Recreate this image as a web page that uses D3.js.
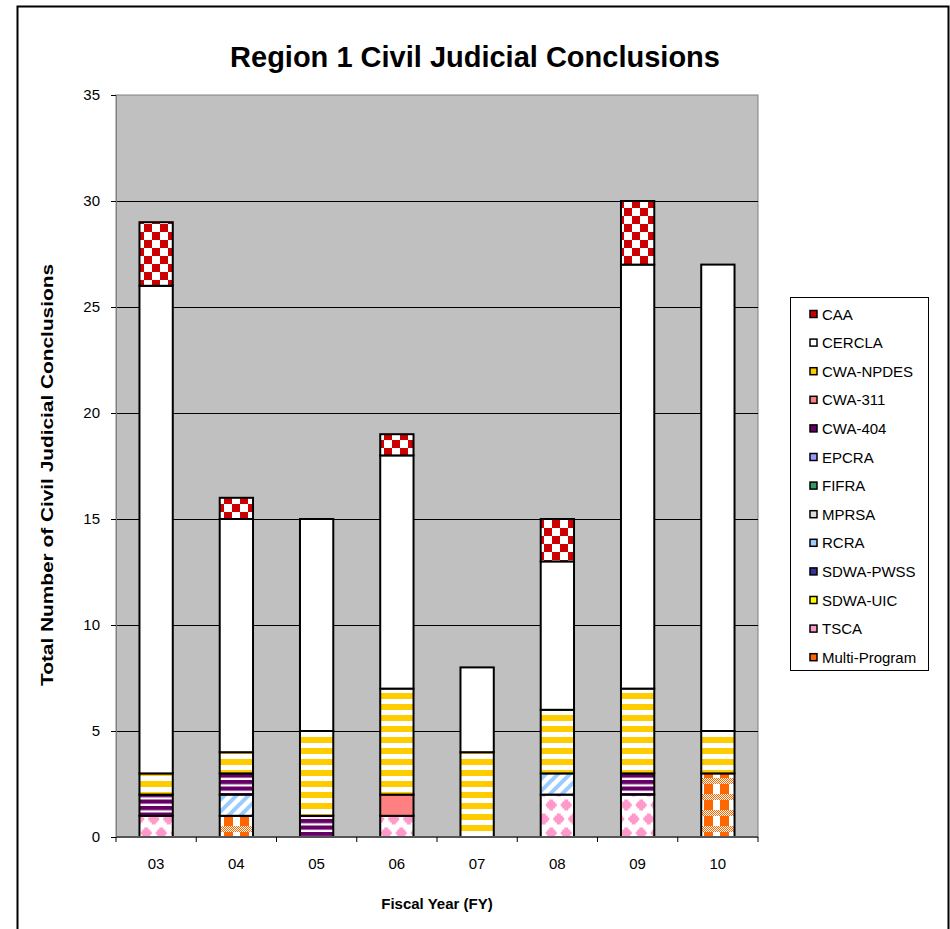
<!DOCTYPE html>
<html><head><meta charset="utf-8">
<script src="https://cdn.jsdelivr.net/npm/d3@7"></script>
<style>body{margin:0;background:#fff;font-family:"Liberation Sans",Arial,sans-serif}</style>
</head><body>
<svg id="c" width="950" height="929"></svg>
<script>
const years = ["03","04","05","06","07","08","09","10"];
// stacking order bottom -> top
const seriesKeys = ["Multi-Program","TSCA","SDWA-UIC","SDWA-PWSS","RCRA","MPRSA","FIFRA","EPCRA","CWA-404","CWA-311","CWA-NPDES","CERCLA","CAA"];
const multiProgram = [0,1,0,0,0,0,0,3];
const tsca         = [1,0,0,1,0,2,2,0];
const sdwaUic      = [0,0,0,0,0,0,0,0];
const sdwaPwss     = [0,0,0,0,0,0,0,0];
const rcra         = [0,1,0,0,0,1,0,0];
const mprsa        = [0,0,0,0,0,0,0,0];
const fifra        = [0,0,0,0,0,0,0,0];
const epcra        = [0,0,0,0,0,0,0,0];
const cwa404       = [1,1,1,0,0,0,1,0];
const cwa311       = [0,0,0,1,0,0,0,0];
const cwaNpdes     = [1,1,4,5,4,3,4,2];
const cercla       = [23,11,10,11,4,7,20,22];
const caa          = [3,1,0,1,0,2,3,0];
const yTicks = [0,5,10,15,20,25,30,35];
const legendOrder = ["CAA","CERCLA","CWA-NPDES","CWA-311","CWA-404","EPCRA","FIFRA","MPRSA","RCRA","SDWA-PWSS","SDWA-UIC","TSCA","Multi-Program"];

const valuesByKey = {"Multi-Program":multiProgram,"TSCA":tsca,"SDWA-UIC":sdwaUic,"SDWA-PWSS":sdwaPwss,"RCRA":rcra,"MPRSA":mprsa,"FIFRA":fifra,"EPCRA":epcra,"CWA-404":cwa404,"CWA-311":cwa311,"CWA-NPDES":cwaNpdes,"CERCLA":cercla,"CAA":caa};
const table = years.map((y,i)=>{const o={year:y};seriesKeys.forEach(k=>o[k]=valuesByKey[k][i]);return o;});

const FONT = "'Liberation Sans', Arial, sans-serif";
const svg = d3.select("#c");
const defs = svg.append("defs");
function pat(id,w,h,draw){const p=defs.append("pattern").attr("id",id).attr("patternUnits","userSpaceOnUse").attr("width",w).attr("height",h);draw(p);return "url(#"+id+")";}

const fills = {
  "CAA": pat("pCAA",16,16,p=>{p.append("rect").attr("width",16).attr("height",16).attr("fill","#fff");
    p.append("rect").attr("width",8).attr("height",8).attr("fill","#CC0000");
    p.append("rect").attr("x",8).attr("y",8).attr("width",8).attr("height",8).attr("fill","#CC0000");}),
  "CERCLA": "#ffffff",
  "CWA-NPDES": pat("pNP",8,11,p=>{p.append("rect").attr("width",8).attr("height",11).attr("fill","#fff");
    p.append("rect").attr("y",0).attr("width",8).attr("height",6).attr("fill","#FFCC00");}),
  "CWA-311": "#FF8080",
  "CWA-404": pat("p404",8,6.5,p=>{p.append("rect").attr("width",8).attr("height",6.5).attr("fill","#fff");
    p.append("rect").attr("y",0).attr("width",8).attr("height",4.2).attr("fill","#660066");}),
  "EPCRA": "#9999FF",
  "FIFRA": "#339966",
  "MPRSA": "#DDDDDD",
  "RCRA": pat("pRC",12,12,p=>{p.append("rect").attr("width",12).attr("height",12).attr("fill","#fff");
    p.append("path").attr("d","M-3,15 L15,-3 M-3,3 L3,-3 M9,15 L15,9").attr("stroke","#99CCFF").attr("stroke-width",4);}),
  "SDWA-PWSS": pat("pPW",6,6,p=>{p.append("rect").attr("width",6).attr("height",6).attr("fill","#fff");
    p.append("path").attr("d","M0,6 L6,0").attr("stroke","#333399").attr("stroke-width",2);}),
  "SDWA-UIC": "#FFFF00",
  "TSCA": pat("pTS",15,28,p=>{p.append("rect").attr("width",15).attr("height",28).attr("fill","#fff");
    const d=(cx,cy)=>`M${cx-2},${cy-5.5}h4v2h2v2h1.5v3h-1.5v2h-2v2h-4v-2h-2v-2h-1.5v-3h1.5v-2h2Z`;
    p.append("path").attr("d",d(3.75,7)+d(11.25,21)+d(18.75,7)+d(-3.75,21)+d(3.75,35)+d(18.75,35)+d(11.25,-7)+d(-3.75,-7)).attr("fill","#FF99CC");}),
  "Multi-Program": pat("pMP",16,16,p=>{p.append("rect").attr("width",16).attr("height",16).attr("fill","#fff");
    p.append("rect").attr("x",0).attr("y",0).attr("width",9).attr("height",10).attr("fill","#FF6600");
    for(let yy=10;yy<16;yy+=2)for(let xx=0;xx<16;xx+=2){
      p.append("rect").attr("x",xx).attr("y",yy).attr("width",1).attr("height",1).attr("fill","#FF6600");
      p.append("rect").attr("x",xx+1).attr("y",yy+1).attr("width",1).attr("height",1).attr("fill","#FF6600");}
  })
};
const legendSwatch = Object.assign({},fills,{"CWA-NPDES":"#FFCC00","CWA-404":"#660066","RCRA":"#99CCFF","TSCA":"#FF99CC","Multi-Program":"#FF6600","CAA":"#CC0000","SDWA-PWSS":"#333399"});

// outer border
svg.append("rect").attr("x",17.5).attr("y",6.5).attr("width",931).attr("height",940).attr("fill","#fff").attr("stroke","#000").attr("stroke-width",2);

const L=116,R=758,T=95,B=837;
const x = d3.scaleBand().domain(years).range([L,R]).paddingInner(0.585).paddingOuter(0.2925);
const y = d3.scaleLinear().domain([0,35]).range([B,T]);

svg.append("rect").attr("x",L).attr("y",T).attr("width",R-L).attr("height",B-T).attr("fill","#C0C0C0").attr("stroke","#808080").attr("stroke-width",1);

// grid
svg.append("g").selectAll("line").data(yTicks.filter(v=>v>0&&v<35)).join("line")
  .attr("x1",L).attr("x2",R).attr("y1",d=>Math.round(y(d))+0.5).attr("y2",d=>Math.round(y(d))+0.5).attr("stroke","#000").attr("stroke-width",1);

const stack = d3.stack().keys(seriesKeys)(table);
const g = svg.append("g");
stack.forEach(layer=>{
  g.append("g").selectAll("rect").data(layer.filter(d=>d[1]-d[0]>0)).join("rect")
   .attr("x",d=>x(d.data.year)).attr("width",x.bandwidth())
   .attr("y",d=>y(d[1])).attr("height",d=>y(d[0])-y(d[1]))
   .attr("fill",fills[layer.key]).attr("stroke","#000").attr("stroke-width",2);
});

// y axis
const ya = svg.append("g").attr("transform",`translate(${L},0)`).call(d3.axisLeft(y).tickValues(yTicks).tickSize(5).tickPadding(11));
ya.select(".domain").attr("stroke","#808080");
ya.selectAll(".tick line").attr("stroke","#000");
ya.selectAll("text").attr("font-family",FONT).attr("font-size",15).attr("fill","#000");

// x axis
const xa = svg.append("g").attr("transform",`translate(0,${B})`);
xa.append("line").attr("x1",L).attr("x2",R).attr("stroke","#555").attr("stroke-width",2);
const step=(R-L)/years.length;
xa.selectAll("line.t").data(d3.range(years.length+1)).join("line").attr("class","t")
  .attr("x1",i=>L+i*step).attr("x2",i=>L+i*step).attr("y1",0).attr("y2",5).attr("stroke","#000");
xa.selectAll("text").data(years).join("text").attr("x",d=>x(d)+x.bandwidth()/2).attr("y",32)
  .attr("text-anchor","middle").attr("font-family",FONT).attr("font-size",15).text(d=>d);

// titles
svg.append("text").attr("x",475).attr("y",67).attr("text-anchor","middle").attr("font-family",FONT).attr("font-weight","bold").attr("font-size",29).text("Region 1 Civil Judicial Conclusions");
svg.append("text").attr("x",437).attr("y",909).attr("text-anchor","middle").attr("font-family",FONT).attr("font-weight","bold").attr("font-size",15).text("Fiscal Year (FY)");
svg.append("text").attr("transform","translate(53,264) rotate(-90)").attr("text-anchor","end").attr("font-family",FONT).attr("font-weight","bold").attr("font-size",16)
  .attr("textLength",422).attr("lengthAdjust","spacingAndGlyphs").text("Total Number of Civil Judicial Conclusions");

// legend
const lg = svg.append("g");
lg.append("rect").attr("x",790.5).attr("y",297.5).attr("width",138).attr("height",373).attr("fill","#fff").attr("stroke","#000");
legendOrder.forEach((k,i)=>{
  const yy=314+i*28.6;
  lg.append("rect").attr("x",810).attr("y",yy-3.5).attr("width",7).attr("height",7).attr("fill",legendSwatch[k]).attr("stroke","#000").attr("stroke-width",1.5);
  lg.append("text").attr("x",822).attr("y",yy+5.5).attr("font-family",FONT).attr("font-size",15).text(k);
});
</script>
</body></html>
